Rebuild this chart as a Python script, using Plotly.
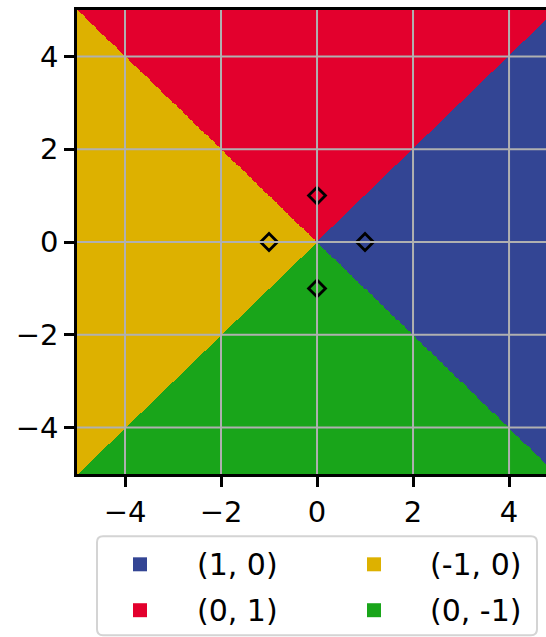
import numpy as np
import plotly.graph_objects as go

# Class prototypes (unit vectors) and their display colours
class_labels = ["(1, 0)", "(0, 1)", "(-1, 0)", "(0, -1)"]
class_x = [1, 0, -1, 0]
class_y = [0, 1, 0, -1]
class_colors = ["#334594", "#E3002D", "#DDB100", "#19A51A"]

tick_vals = [-4, -2, 0, 2, 4]
x_range = [-5, 4.77]
y_range = [-5, 5]

# Decision regions: each grid point goes to the prototype with the largest dot product
n = 480
gx = np.linspace(-5, 5, n)
gy = np.linspace(-5, 5, n)
X, Y = np.meshgrid(gx, gy)
scores = np.stack([X * cx + Y * cy for cx, cy in zip(class_x, class_y)])
Z = np.argmax(scores, axis=0)

k = len(class_colors)
colorscale = []
for i, c in enumerate(class_colors):
    colorscale.append([i / k, c])
    colorscale.append([(i + 1) / k, c])

fig = go.Figure()
fig.add_trace(go.Heatmap(
    x=gx, y=gy, z=Z, zmin=-0.5, zmax=k - 0.5,
    colorscale=colorscale, showscale=False, zsmooth=False, hoverinfo="skip",
))
fig.add_trace(go.Scatter(
    x=class_x, y=class_y, mode="markers", showlegend=False,
    marker=dict(symbol="diamond-open", size=13, color="black",
                line=dict(width=2.8, color="black")),
))

W, H = 546, 637
ML, MR, MT, MB = 77, 0, 9.5, 162.5
pw, ph = W - ML - MR, H - MT - MB


def px(xp):
    return (xp - ML) / pw


def py(yp):
    return (H - MB - yp) / ph


shapes = []
# grid drawn over the colour regions
for v in tick_vals:
    shapes.append(dict(type="line", xref="x", yref="paper", x0=v, x1=v, y0=0, y1=1,
                       line=dict(color="#b0b0b0", width=2), layer="above"))
    shapes.append(dict(type="line", xref="paper", yref="y", x0=0, x1=1, y0=v, y1=v,
                       line=dict(color="#b0b0b0", width=2), layer="above"))

# legend frame with rounded corners
lx0, lx1, ly0, ly1, r = 97, 537, 537, 636, 6
pts = (f"M {px(lx0 + r)} {py(ly0)} L {px(lx1 - r)} {py(ly0)} "
       f"Q {px(lx1)} {py(ly0)} {px(lx1)} {py(ly0 + r)} "
       f"L {px(lx1)} {py(ly1 - r)} Q {px(lx1)} {py(ly1)} {px(lx1 - r)} {py(ly1)} "
       f"L {px(lx0 + r)} {py(ly1)} Q {px(lx0)} {py(ly1)} {px(lx0)} {py(ly1 - r)} "
       f"L {px(lx0)} {py(ly0 + r)} Q {px(lx0)} {py(ly0)} {px(lx0 + r)} {py(ly0)} Z")
shapes.append(dict(type="path", xref="paper", yref="paper", path=pts,
                   line=dict(color="#d4d4d4", width=2), fillcolor="white", layer="above"))

annotations = []
# two columns: first column holds entries 0,1; second holds 2,3
col_sw = [140, 374]
col_tx = [195, 428]
row_y = [565, 611]
for i, (lab, c) in enumerate(zip(class_labels, class_colors)):
    col, row = i // 2, i % 2
    cx, cy = col_sw[col], row_y[row]
    s = 7
    shapes.append(dict(type="rect", xref="paper", yref="paper",
                       x0=px(cx - s), x1=px(cx + s), y0=py(cy + s), y1=py(cy - s),
                       fillcolor=c, line=dict(width=0), layer="above"))
    annotations.append(dict(xref="paper", yref="paper", x=px(col_tx[col]), y=py(cy),
                            text=lab, showarrow=False, xanchor="left", yanchor="middle",
                            font=dict(size=30, color="black", family="DejaVu Sans")))

axis_common = dict(
    tickvals=tick_vals, ticks="outside", ticklen=10, tickwidth=2.5, tickcolor="black",
    showgrid=False, zeroline=False, showline=True, linecolor="black", linewidth=2.5,
    tickfont=dict(size=29, color="black", family="DejaVu Sans"), layer="above traces",
)

fig.update_layout(
    width=W, height=H, margin=dict(l=ML, r=MR, t=MT, b=MB, pad=0),
    paper_bgcolor="white", plot_bgcolor="white",
    xaxis=dict(range=x_range, mirror=True, **axis_common),
    yaxis=dict(range=y_range, **axis_common),
    shapes=shapes, annotations=annotations, showlegend=False,
)

fig.write_html("out.html")
